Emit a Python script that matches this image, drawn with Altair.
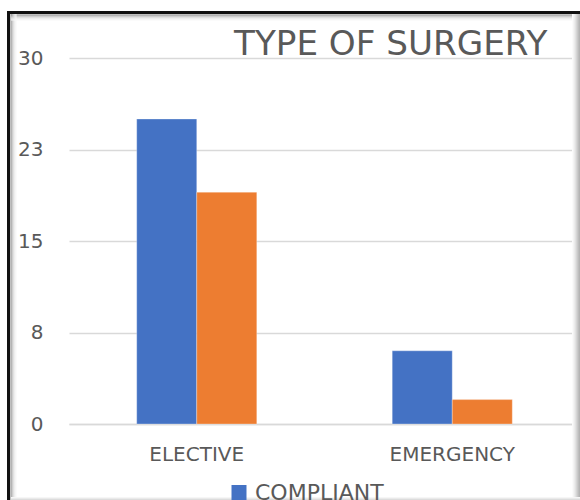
import altair as alt
import pandas as pd

# Surgery type counts by compliance group
surgery_types = ["ELECTIVE", "EMERGENCY"]
compliant = [25, 6]
non_compliant = [19, 2]
series_names = ["COMPLIANT", "NON-COMPLIANT"]
series_colors = ["#4472C4", "#ED7D31"]
y_ticks = [0, 7.5, 15, 22.5, 30]

rows = []
for i, t in enumerate(surgery_types):
    rows.append({"type": t, "group": series_names[0], "count": compliant[i]})
    rows.append({"type": t, "group": series_names[1], "count": non_compliant[i]})
df = pd.DataFrame(rows)

FONT = "DejaVu Sans"
TEXT = "#595959"
GRID = "#d9d9d9"

bars = alt.Chart(df).mark_bar(stroke="white", strokeWidth=0.5, strokeOpacity=0.6).encode(
    x=alt.X(
        "type:N",
        sort=surgery_types,
        title=None,
        scale=alt.Scale(paddingInner=0.53, paddingOuter=0.265),
        axis=alt.Axis(
            labelAngle=0,
            ticks=False,
            domain=True,
            domainColor=GRID,
            domainWidth=1.5,
            labelPadding=20,
            labelFont=FONT,
            labelFontSize=20,
            labelColor=TEXT,
            grid=False,
        ),
    ),
    xOffset=alt.XOffset("group:N", sort=series_names, scale=alt.Scale(paddingInner=0, paddingOuter=0)),
    y=alt.Y(
        "count:Q",
        title=None,
        scale=alt.Scale(domain=[0, 30], nice=False, zero=True),
        axis=alt.Axis(
            values=y_ticks,
            labelExpr="round(datum.value)",
            ticks=False,
            domain=False,
            grid=True,
            gridColor=GRID,
            gridWidth=1.5,
            labelPadding=26,
            labelFont=FONT,
            labelFontSize=20,
            labelColor=TEXT,
        ),
    ),
    color=alt.Color(
        "group:N",
        sort=series_names,
        scale=alt.Scale(domain=series_names, range=series_colors),
        legend=alt.Legend(
            title=None,
            orient="none",
            legendX=159,
            legendY=423.5,
            direction="vertical",
            symbolType="square",
            symbolSize=225,
            symbolStrokeWidth=0,
            labelFont=FONT,
            labelFontSize=22,
            labelColor=TEXT,
            labelOffset=5,
            rowPadding=6,
        ),
    ),
)

# Picture frame around the chart: dark edge plus soft inner shadow
one = pd.DataFrame({"k": [0]})
frame_layers = []


def vline(x, color, width, y0=-47, y1=442):
    return alt.Chart(one).mark_rule(color=color, strokeWidth=width).encode(
        x=alt.value(x), y=alt.value(y0), y2=alt.value(y1)
    )


def hline(y, color, width, x0=-62, x1=511):
    return alt.Chart(one).mark_rule(color=color, strokeWidth=width).encode(
        y=alt.value(y), x=alt.value(x0), x2=alt.value(x1)
    )


shadow = ["#808080", "#a8a8a8", "#c8c8c8", "#dedede", "#eeeeee", "#f7f7f7"]
for i, c in enumerate(shadow):
    frame_layers.append(vline(-58 + i, c, 1, y0=-44))
    frame_layers.append(hline(-43 + i, c, 1, x0=-58))
frame_layers.append(vline(-60.5, "#111111", 3))
frame_layers.append(hline(-45.5, "#111111", 3))

right_shadow = ["#fbfbfb", "#f4f4f4", "#ececec", "#e2e2e2", "#d6d6d6", "#cacaca", "#bebebe", "#b4b4b4"]
for i, c in enumerate(right_shadow):
    frame_layers.append(vline(503.5 + i, c, 1, y0=-44))
bottom_shadow = ["#f6f6f6", "#eaeaea", "#dcdcdc"]
for i, c in enumerate(bottom_shadow):
    frame_layers.append(hline(439.5 + i, c, 1, x0=-58))

chart = alt.layer(bars, *frame_layers).properties(
    width=511,
    height=366,
    autosize=alt.AutoSizeParams(type="none"),
    padding={"left": 69, "top": 58, "right": 0, "bottom": 76},
    background="white",
    title=alt.TitleParams(
        "TYPE OF SURGERY",
        anchor="start",
        frame="group",
        dx=165,
        dy=84,
        offset=4,
        baseline="alphabetic",
        font=FONT,
        fontSize=34.2,
        fontWeight="normal",
        color=TEXT,
    ),
).configure_view(strokeWidth=0)

chart.save("out.html", embed_options={"renderer": "svg", "actions": False})
